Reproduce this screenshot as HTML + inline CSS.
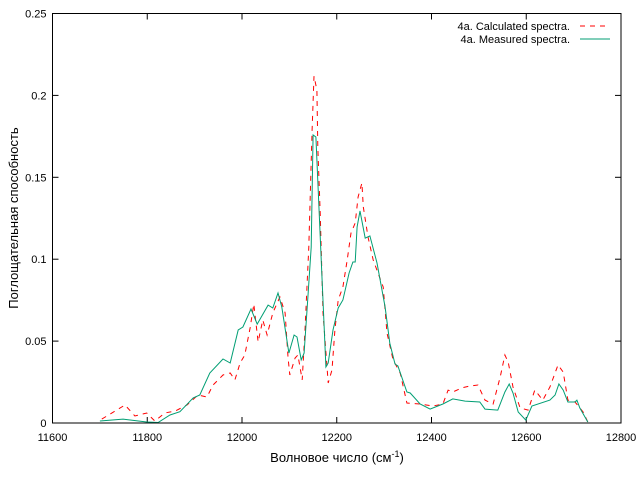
<!DOCTYPE html>
<html><head><meta charset="utf-8"><style>
body{margin:0;background:#fff;}
svg{display:block;font-family:"Liberation Sans","DejaVu Sans",sans-serif;}
</style></head><body>
<svg id="chart" width="640" height="480" viewBox="0 0 640 480" xmlns="http://www.w3.org/2000/svg">
<rect x="0" y="0" width="640" height="480" fill="#fff"/>
<g id="ticks"></g>
<g id="series"></g>
<rect x="52.5" y="13.5" width="568.5" height="409.5" fill="none" stroke="#000" stroke-width="1"/>
<text transform="translate(18,218) rotate(-90)" text-anchor="middle" font-size="13">Поглощательная способность</text>
<text x="337" y="462" text-anchor="middle" font-size="13">Волновое число (см<tspan font-size="9" dy="-5">-1</tspan><tspan dy="5">)</tspan></text>
<g>
<text x="570" y="30" text-anchor="end" font-size="11">4a. Calculated spectra.</text>
<line x1="580" y1="26" x2="610" y2="26" stroke="#ff0000" stroke-width="1" stroke-dasharray="5,5"/>
<text x="570" y="43" text-anchor="end" font-size="11">4a. Measured spectra.</text>
<line x1="580" y1="39" x2="610" y2="39" stroke="#009e73" stroke-width="1"/>
</g>
</svg>
<script>
const xTicks = [11600, 11800, 12000, 12200, 12400, 12600, 12800];
const yTicks = [0, 0.05, 0.1, 0.15, 0.2, 0.25];
const yTickLabels = ["0", "0.05", "0.1", "0.15", "0.2", "0.25"];
const measuredX = [11700,11749,11799,11823,11848,11869,11897,11911,11932,11960,11975,11992,12002,12019,12032,12055,12065,12076,12084,12099,12110,12116,12125,12131,12139,12146,12150,12156,12163,12169,12177,12182,12192,12203,12213,12226,12234,12239,12243,12249,12260,12270,12285,12302,12312,12323,12329,12348,12355,12376,12397,12424,12445,12471,12502,12513,12540,12555,12564,12572,12583,12599,12612,12650,12661,12669,12678,12688,12703,12707,12713,12730];
const measuredY = [0.0012,0.0024,0.0006,0.0003,0.0049,0.0069,0.0153,0.0171,0.0305,0.0391,0.0366,0.0568,0.0586,0.0696,0.0604,0.0720,0.0702,0.0794,0.0708,0.0427,0.0537,0.0525,0.0385,0.0427,0.0769,0.1074,0.1758,0.1746,0.1282,0.0873,0.0342,0.0366,0.0568,0.0702,0.0751,0.0916,0.0983,0.0983,0.1197,0.1294,0.1129,0.1142,0.0977,0.0708,0.0488,0.0360,0.0348,0.0189,0.0183,0.0116,0.0085,0.0116,0.0147,0.0134,0.0128,0.0085,0.0079,0.0189,0.0238,0.0183,0.0067,0.0018,0.0104,0.0140,0.0171,0.0238,0.0201,0.0128,0.0128,0.0140,0.0092,0.0006];
const calcX = [11704,11753,11774,11799,11816,11837,11859,11884,11907,11926,11939,11960,11975,11985,11996,12006,12017,12025,12034,12044,12053,12065,12080,12091,12097,12101,12112,12118,12127,12133,12141,12148,12152,12158,12160,12165,12171,12182,12190,12196,12203,12213,12222,12230,12239,12245,12253,12256,12266,12277,12287,12298,12306,12319,12334,12348,12376,12403,12424,12435,12445,12464,12481,12498,12513,12530,12545,12555,12562,12572,12587,12604,12618,12635,12650,12667,12678,12688,12703,12720,12730];
const calcY = [0.0024,0.0110,0.0043,0.0061,0.0012,0.0061,0.0073,0.0110,0.0171,0.0159,0.0232,0.0293,0.0305,0.0263,0.0366,0.0415,0.0580,0.0726,0.0495,0.0629,0.0537,0.0672,0.0769,0.0672,0.0403,0.0293,0.0397,0.0415,0.0263,0.0568,0.1074,0.1789,0.2118,0.2033,0.1685,0.1282,0.0672,0.0244,0.0324,0.0568,0.0751,0.0830,0.0995,0.1160,0.1221,0.1380,0.1465,0.1319,0.1136,0.0995,0.0916,0.0830,0.0549,0.0385,0.0305,0.0122,0.0116,0.0104,0.0116,0.0201,0.0189,0.0214,0.0226,0.0232,0.0140,0.0116,0.0281,0.0415,0.0372,0.0220,0.0092,0.0079,0.0201,0.0140,0.0220,0.0354,0.0311,0.0140,0.0128,0.0067,0.0006];

const NS = "http://www.w3.org/2000/svg";
const L = 52.5, R = 621, T = 13.5, B = 423;
const xMin = 11600, xMax = 12800, yMin = 0, yMax = 0.25;
function sx(v){ return L + (v - xMin) / (xMax - xMin) * (R - L); }
function sy(v){ return B - (v - yMin) / (yMax - yMin) * (B - T); }

const tg = document.getElementById('ticks');
xTicks.forEach(function(t){
  const x = sx(t);
  const a = document.createElementNS(NS, 'line');
  
  
  a.setAttribute('x1', x); a.setAttribute('x2', x); a.setAttribute('y1', B); a.setAttribute('y2', B - 6);
  a.setAttribute('stroke', '#000');
  tg.appendChild(a);
  const b = document.createElementNS(NS, 'line');
  
  
  b.setAttribute('x1', x); b.setAttribute('x2', x); b.setAttribute('y1', T); b.setAttribute('y2', T + 6);
  b.setAttribute('stroke', '#000');
  tg.appendChild(b);
  const tx = document.createElementNS(NS, 'text');
  
  
  tx.setAttribute('x', x); tx.setAttribute('y', B + 18);
  tx.setAttribute('text-anchor', 'middle'); tx.setAttribute('font-size', '11');
  tx.textContent = String(t);
  tg.appendChild(tx);
});
yTicks.forEach(function(t, i){
  const y = sy(t);
  const a = document.createElementNS(NS, 'line');
  
  
  a.setAttribute('x1', L); a.setAttribute('x2', L + 6); a.setAttribute('y1', y); a.setAttribute('y2', y);
  a.setAttribute('stroke', '#000');
  tg.appendChild(a);
  const b = document.createElementNS(NS, 'line');
  
  
  b.setAttribute('x1', R); b.setAttribute('x2', R - 6); b.setAttribute('y1', y); b.setAttribute('y2', y);
  b.setAttribute('stroke', '#000');
  tg.appendChild(b);
  const tx = document.createElementNS(NS, 'text');
  
  
  tx.setAttribute('x', L - 6); tx.setAttribute('y', y + 4);
  tx.setAttribute('text-anchor', 'end'); tx.setAttribute('font-size', '11');
  tx.textContent = yTickLabels[i];
  tg.appendChild(tx);
});

function pathFor(xs, ys){
  return xs.map(function(v, i){ return (i ? 'L' : 'M') + sx(v).toFixed(1) + ',' + sy(ys[i]).toFixed(1); }).join(' ');
}
const sg = document.getElementById('series');
const pc = document.createElementNS(NS, 'path');


pc.setAttribute('d', pathFor(calcX, calcY));
pc.setAttribute('fill', 'none'); pc.setAttribute('stroke', '#ff0000');
pc.setAttribute('stroke-width', '1'); pc.setAttribute('stroke-dasharray', '5,5');
sg.appendChild(pc);
const pm = document.createElementNS(NS, 'path');


pm.setAttribute('d', pathFor(measuredX, measuredY));
pm.setAttribute('fill', 'none'); pm.setAttribute('stroke', '#009e73');
pm.setAttribute('stroke-width', '1');
sg.appendChild(pm);
</script>
</body></html>
